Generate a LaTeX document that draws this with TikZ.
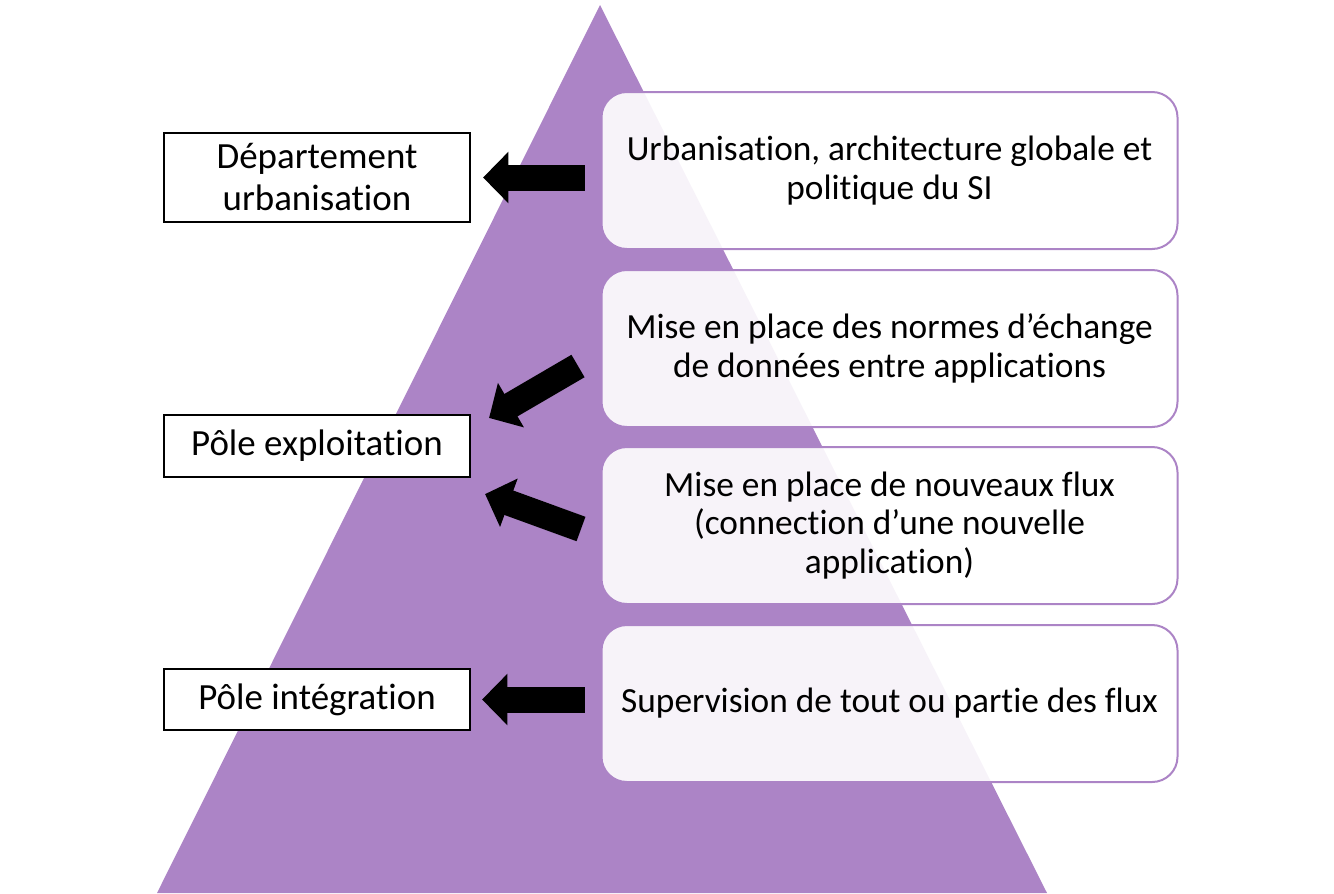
\documentclass[tikz,border=0pt]{standalone}
\usepackage{fontspec}
\setmainfont{Carlito}[RawFeature={-liga;-clig;-calt;-dlig;-rlig}]
\usetikzlibrary{arrows.meta,calc}
\definecolor{lilac}{RGB}{172,132,198}

\tikzset{
  rightbox/.style={draw=lilac, line width=1.5pt, fill=white, fill opacity=0.91, text opacity=1,
    rounded corners=19pt, minimum width=432pt, minimum height=117.75pt, align=center,
    font=\fontsize{26.5}{29}\selectfont},
  leftbox/.style={draw=black, line width=1.6pt, fill=white, minimum width=229.5pt,
    align=center, font=\fontsize{27.7}{31.5}\selectfont},
  bigarrow/.style={line width=19.5pt, -{Triangle[length=19pt,width=37.5pt]}}
}

\begin{document}
\begin{tikzpicture}[x=0.75pt,y=0.75pt,yscale=-1,xscale=1]
	\useasboundingbox (0,0) rectangle (1334,893);
	\fill [lilac] (600,5) -- (1047,893) -- (157,893) -- cycle;
	\node [rightbox] (urba) at (889.5,170.5) {Urbanisation, architecture globale et\\politique du SI};
	\node [rightbox] (norms) at (889.5,348.5) {Mise en place des normes d’échange\\de données entre applications};
	\node [rightbox] (flux) at (889.5,525.5) {Mise en place de nouveaux flux\\(connection d’une nouvelle\\application)};
	\node [rightbox] (superv) at (889.5,703.5) {Supervision de tout ou partie des flux};
	\node [leftbox, minimum height=66.75pt] (dept) at (317,177.5) {Département\\urbanisation};
	\node [leftbox, minimum height=46.5pt] (exploit) at (317,446) {Pôle exploitation};
	\node [leftbox, minimum height=45.75pt] (integ) at (317,699.5) {Pôle intégration};
	\draw [bigarrow, shorten <=12pt, shorten >=9pt] (urba.west |- dept.east) -- (dept.east);
	\draw [bigarrow] ($(norms.west)+(-22.5,17.5)$) -- ($(exploit.north east)+(18,4)$);
	\draw [bigarrow] ($(flux.west)+(-19.5,3.5)$) -- ($(exploit.south east)+(14,16)$);
	\draw [bigarrow, shorten <=12pt, shorten >=8.25pt] (superv.west |- integ.east) -- (integ.east);
\end{tikzpicture}
\end{document}
